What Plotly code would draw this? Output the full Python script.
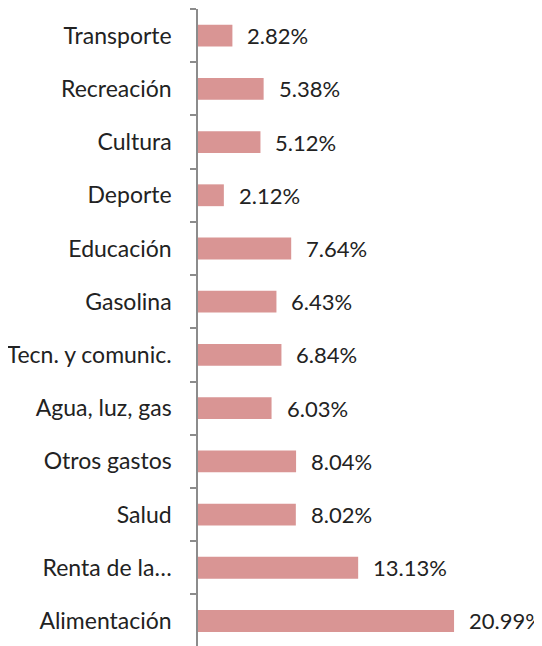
import plotly.graph_objects as go

categories = ["Transporte", "Recreación", "Cultura", "Deporte", "Educación", "Gasolina",
              "Tecn. y comunic.", "Agua, luz, gas", "Otros gastos", "Salud",
              "Renta de la…", "Alimentación"]
values = [2.82, 5.38, 5.12, 2.12, 7.64, 6.43, 6.84, 6.03, 8.04, 8.02, 13.13, 20.99]
labels = ["2.82%", "5.38%", "5.12%", "2.12%", "7.64%", "6.43%", "6.84%", "6.03%",
          "8.04%", "8.02%", "13.13%", "20.99%"]

# plot bottom-to-top so first category is at top
cats = categories[::-1]
vals = values[::-1]
labs = labels[::-1]

FONT = "Lato"
fig = go.Figure()
fig.add_trace(go.Bar(
    y=cats, x=vals, orientation="h",
    marker=dict(color="#D99594", line=dict(width=0)),
    width=0.41,
    hoverinfo="skip",
))
for c, v, t in zip(cats, vals, labs):
    fig.add_annotation(x=v, y=c, text=t, showarrow=False, xanchor="left",
                       xshift=13, font=dict(family=FONT, size=22, color="#222222"))

# page body has an 8px default margin; compensate so the chart sits like the reference
fig.update_layout(
    width=534, height=638,
    margin=dict(l=190, r=0, t=1, b=0),
    paper_bgcolor="white", plot_bgcolor="white",
    showlegend=False,
)
fig.update_xaxes(range=[0, 28.2], visible=False)
fig.update_yaxes(
    type="category", categoryorder="array", categoryarray=cats,
    range=[-0.47, 11.5], automargin=False,
    showline=True, linecolor="#8c8c8c", linewidth=1.5,
    ticks="outside", ticklen=6, tickcolor="#8c8c8c", tickwidth=1.5,
    tickson="boundaries", showgrid=False,
    tickfont=dict(family=FONT, size=23, color="#222222"),
    ticklabelstandoff=20,
)
fig.write_html("out.html")
